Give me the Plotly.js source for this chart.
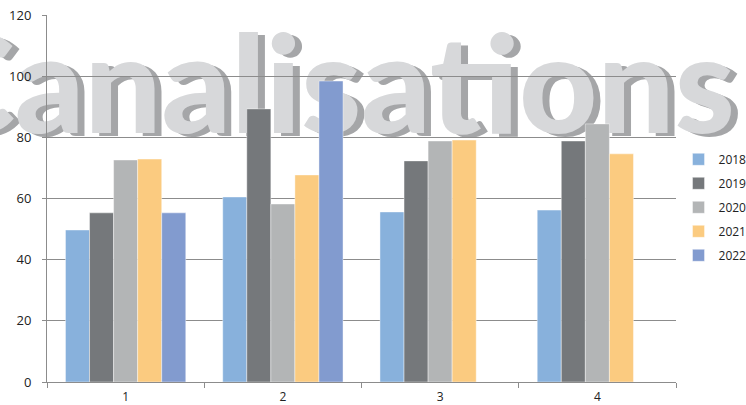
<!DOCTYPE html>
<html>
<head>
<meta charset="utf-8">
<script src="https://cdn.plot.ly/plotly-3.0.1.min.js"></script>
<style>html,body{margin:0;padding:0;background:#fff;}#chart{width:746px;height:405px;}</style>
</head>
<body>
<div id="chart"></div>
<script>
const categories = ['1', '2', '3', '4'];
const seriesNames = ['2018', '2019', '2020', '2021', '2022'];
const v2018 = [49.7, 60.5, 55.6, 56.2];
const v2019 = [55.3, 89.3, 72.3, 78.8];
const v2020 = [72.6, 58.2, 78.8, 84.4];
const v2021 = [72.9, 67.7, 79.1, 74.6];
const v2022 = [55.3, 98.4, null, null];
const seriesValues = [v2018, v2019, v2020, v2021, v2022];
const colors = ['#88b1dc', '#75787b', '#b3b5b6', '#fbcb80', '#829bcf'];
const titleText = 'Canalisations';
const yTicks = [0, 20, 40, 60, 80, 100, 120];

const traces = seriesNames.map((name, i) => ({
  type: 'bar',
  name: name,
  x: categories,
  y: seriesValues[i],
  legendgroup: name,
  marker: {color: colors[i], line: {color: 'rgba(255,255,255,0.6)', width: 0.7}},
  hoverinfo: 'x+y+name'
}));

const layout = {
  width: 746,
  height: 405,
  margin: {l: 47, r: 70, t: 15, b: 23, autoexpand: false},
  paper_bgcolor: '#ffffff',
  plot_bgcolor: 'rgba(0,0,0,0)',
  barmode: 'group',
  bargap: 0.235,
  bargroupgap: 0,
  font: {family: 'Open Sans, sans-serif', size: 12, color: '#333333'},
  showlegend: true,
  legend: {
    x: 1.004, xanchor: 'left', y: 0.476, yanchor: 'middle',
    traceorder: 'grouped', tracegroupgap: 5,
    font: {family: 'Open Sans, sans-serif', size: 12, color: '#222222'},
    itemwidth: 30, bgcolor: 'rgba(0,0,0,0)'
  },
  xaxis: {
    type: 'category',
    showgrid: false,
    showline: true, linecolor: '#8c8c8c', linewidth: 1,
    ticks: 'outside', tickson: 'boundaries', ticklen: 5, tickcolor: '#8c8c8c',
    ticklabelstandoff: 4,
    tickfont: {family: 'Open Sans, sans-serif', size: 12, color: '#222222'},
    fixedrange: true
  },
  yaxis: {
    range: [0, 120],
    tickvals: yTicks,
    showgrid: true, gridcolor: '#8c8c8c', gridwidth: 1,
    zeroline: false,
    showline: true, linecolor: '#8c8c8c', linewidth: 1,
    ticks: 'outside', ticklen: 4, tickcolor: '#8c8c8c',
    ticklabelstandoff: 8,
    tickfont: {family: 'Open Sans, sans-serif', size: 13, color: '#222222'},
    fixedrange: true
  },
  shapes: [{
    type: 'rect', xref: 'paper', yref: 'paper', layer: 'below',
    x0: -0.2, x1: 1.1, y0: 0.62, y1: 1.036,
    line: {width: 0}, fillcolor: 'rgba(0,0,0,0)',
    label: {
      text: titleText,
      textposition: 'middle center',
      font: {family: 'Lato, sans-serif', size: 136, weight: 900, color: '#d7d8da',
             shadow: '7px 3px 0px #a5a6a8'}
    }
  }]
};

Plotly.newPlot('chart', traces, layout, {displayModeBar: false, staticPlot: true});
</script>
</body>
</html>
